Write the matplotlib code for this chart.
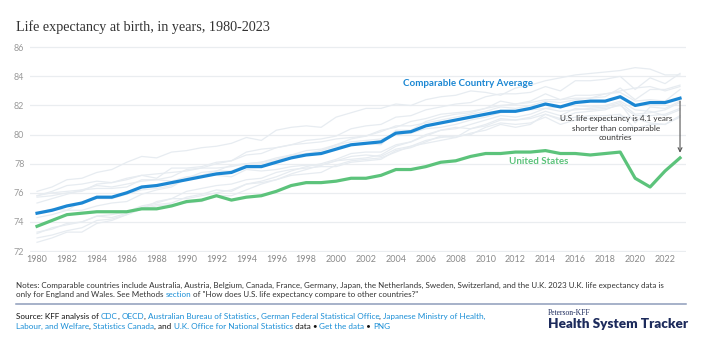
import matplotlib
matplotlib.use("Agg")
import matplotlib.pyplot as plt
from matplotlib.lines import Line2D

# ---- data ----
years = list(range(1980, 2024))

us = [73.7, 74.1, 74.5, 74.6, 74.7, 74.7, 74.7, 74.9, 74.9, 75.1,
      75.4, 75.5, 75.8, 75.5, 75.7, 75.8, 76.1, 76.5, 76.7, 76.7,
      76.8, 77.0, 77.0, 77.2, 77.6, 77.6, 77.8, 78.1, 78.2, 78.5,
      78.7, 78.7, 78.8, 78.8, 78.9, 78.7, 78.7, 78.6, 78.7, 78.8,
      77.0, 76.4, 77.5, 78.4]

comparable_avg = [74.6, 74.8, 75.1, 75.3, 75.7, 75.7, 76.0, 76.4, 76.5, 76.7,
                  76.9, 77.1, 77.3, 77.4, 77.8, 77.8, 78.1, 78.4, 78.6, 78.7,
                  79.0, 79.3, 79.4, 79.5, 80.1, 80.2, 80.6, 80.8, 81.0, 81.2,
                  81.4, 81.6, 81.6, 81.8, 82.1, 81.9, 82.2, 82.3, 82.3, 82.6,
                  82.0, 82.2, 82.2, 82.5]

japan = [76.1, 76.4, 76.9, 77.0, 77.4, 77.6, 78.1, 78.5, 78.4, 78.8,
         78.9, 79.1, 79.2, 79.4, 79.8, 79.6, 80.3, 80.5, 80.6, 80.5,
         81.2, 81.5, 81.8, 81.8, 82.1, 82.0, 82.4, 82.6, 82.7, 83.0,
         82.9, 82.7, 83.2, 83.4, 83.7, 83.9, 84.1, 84.2, 84.3, 84.4,
         84.6, 84.5, 84.1, 84.1]
switzerland = [75.7, 75.8, 76.0, 76.1, 76.6, 76.7, 76.9, 77.2, 77.3, 77.4,
               77.5, 77.7, 78.0, 78.2, 78.6, 78.7, 79.1, 79.3, 79.6, 79.7,
               79.9, 80.4, 80.6, 80.7, 81.2, 81.3, 81.7, 81.9, 82.1, 82.2,
               82.6, 82.8, 82.8, 82.9, 83.3, 83.0, 83.7, 83.7, 83.8, 84.0,
               83.1, 83.9, 83.5, 84.2]
sweden = [75.8, 76.1, 76.5, 76.6, 76.8, 76.7, 77.0, 77.2, 77.0, 77.7,
          77.7, 77.8, 78.1, 78.2, 78.8, 79.0, 79.1, 79.3, 79.4, 79.5,
          79.7, 79.8, 79.9, 80.2, 80.6, 80.6, 80.8, 81.0, 81.2, 81.4,
          81.6, 81.9, 81.8, 82.0, 82.3, 82.2, 82.4, 82.5, 82.6, 83.2,
          82.4, 83.1, 83.1, 83.4]
australia = [74.6, 74.9, 74.8, 75.4, 75.6, 75.6, 75.9, 76.2, 76.3, 76.5,
             77.0, 77.4, 77.5, 77.9, 78.0, 78.1, 78.3, 78.6, 78.9, 79.0,
             79.3, 79.7, 79.9, 80.3, 80.5, 80.9, 81.1, 81.4, 81.5, 81.6,
             81.8, 82.0, 82.1, 82.2, 82.4, 82.4, 82.5, 82.5, 82.8, 83.0,
             83.2, 83.3, 83.0, 83.3]
france = [74.3, 74.5, 74.8, 74.8, 75.1, 75.3, 75.4, 75.9, 76.2, 76.4,
          77.0, 77.2, 77.5, 77.5, 77.9, 78.0, 78.2, 78.6, 78.7, 78.9,
          79.2, 79.3, 79.4, 79.3, 80.3, 80.3, 80.9, 81.2, 81.4, 81.5,
          81.8, 82.3, 82.1, 82.3, 82.8, 82.4, 82.7, 82.7, 82.8, 82.9,
          82.3, 82.4, 82.3, 83.1]
canada = [75.3, 75.6, 75.9, 76.2, 76.5, 76.4, 76.6, 76.8, 76.9, 77.1,
          77.6, 77.7, 77.7, 77.8, 78.0, 78.1, 78.4, 78.6, 78.6, 78.9,
          79.3, 79.5, 79.6, 79.7, 80.0, 80.1, 80.4, 80.5, 80.7, 81.0,
          81.2, 81.5, 81.6, 81.7, 81.8, 81.9, 82.0, 81.9, 82.0, 82.3,
          81.7, 81.6, 81.3, 81.7]
netherlands = [75.8, 76.0, 76.1, 76.2, 76.3, 76.3, 76.4, 76.9, 76.9, 76.8,
               77.1, 77.2, 77.2, 77.1, 77.6, 77.5, 77.6, 77.8, 77.9, 77.9,
               78.2, 78.3, 78.4, 78.6, 79.2, 79.5, 79.9, 80.3, 80.4, 80.7,
               81.0, 81.3, 81.2, 81.4, 81.8, 81.6, 81.7, 81.8, 81.9, 82.2,
               81.4, 81.5, 81.7, 82.2]
belgium = [73.3, 73.5, 73.9, 74.0, 74.4, 74.5, 74.7, 75.1, 75.3, 75.6,
           76.1, 76.3, 76.5, 76.6, 76.9, 77.0, 77.4, 77.6, 77.7, 77.8,
           77.8, 78.1, 78.2, 78.3, 78.9, 79.1, 79.5, 79.9, 79.8, 80.1,
           80.3, 80.7, 80.5, 80.7, 81.4, 81.1, 81.5, 81.6, 81.7, 82.1,
           80.8, 81.9, 81.8, 82.3]
uk = [73.2, 73.6, 73.8, 74.0, 74.4, 74.3, 74.6, 75.0, 75.2, 75.3,
      75.7, 75.9, 76.2, 76.1, 76.6, 76.7, 76.9, 77.2, 77.3, 77.4,
      77.9, 78.2, 78.3, 78.4, 78.8, 79.2, 79.4, 79.6, 79.8, 80.4,
      80.6, 81.0, 81.0, 81.1, 81.4, 81.0, 81.2, 81.3, 81.3, 81.4,
      80.4, 80.7, 80.7, 81.3]
germany = [72.9, 73.1, 73.4, 73.6, 74.1, 74.2, 74.5, 74.9, 75.1, 75.2,
           75.3, 75.4, 75.8, 75.8, 76.2, 76.6, 76.9, 77.3, 77.6, 77.9,
           78.2, 78.5, 78.6, 78.5, 79.0, 79.2, 79.6, 79.8, 79.9, 80.0,
           80.5, 80.8, 80.7, 80.8, 81.2, 80.7, 81.0, 81.1, 81.0, 81.3,
           81.1, 80.8, 80.7, 81.2]
austria = [72.6, 72.9, 73.3, 73.3, 73.9, 74.1, 74.5, 74.9, 75.4, 75.6,
           75.6, 75.8, 76.0, 76.2, 76.6, 76.8, 77.1, 77.5, 77.8, 78.0,
           78.3, 78.7, 78.8, 78.8, 79.3, 79.5, 80.0, 80.3, 80.5, 80.4,
           80.7, 81.1, 81.0, 81.2, 81.6, 81.3, 81.8, 81.7, 81.8, 82.0,
           81.3, 81.3, 81.4, 81.8]

countries = [japan, switzerland, sweden, australia, france, canada,
             netherlands, belgium, uk, germany, austria]

x_ticks = list(range(1980, 2023, 2))
y_ticks = [72, 74, 76, 78, 80, 82, 84, 86]

# ---- style ----
BLUE = "#1b87d3"
GREEN = "#5cc37b"
LINK = "#1a8ed6"
GREY_LINE = "#e7ecf1"
TEXT = "#333333"
NAVY = "#1d2b5c"
SANS = "Lato"

W, H = 710, 342
fig = plt.figure(figsize=(W / 100, H / 100), dpi=100)
fig.patch.set_facecolor("white")

ax = fig.add_axes([30 / W, 0.2617, 656 / W, 0.6044])
for c in countries:
    ax.plot(years, c, color=GREY_LINE, lw=0.9, zorder=1, solid_joinstyle="round")
ax.plot(years, comparable_avg, color=BLUE, lw=2.3, zorder=3, solid_joinstyle="round")
ax.plot(years, us, color=GREEN, lw=2.3, zorder=3, solid_joinstyle="round")

ax.set_xlim(1979.53, 2023.4)
ax.set_ylim(71.9, 86.1)
ax.set_xticks(x_ticks)
ax.set_yticks(y_ticks)
ax.set_xticklabels([str(v) for v in x_ticks], fontsize=6.5, color="#8a8a8a", family=SANS)
ax.set_yticklabels([str(v) for v in y_ticks], fontsize=6.5, color="#9a9a9a", family=SANS)
ax.tick_params(axis="both", length=0)
ax.tick_params(axis="y", pad=4)
ax.tick_params(axis="x", pad=2)
ax.grid(axis="y", color="#eaedf0", lw=0.9, zorder=0)
ax.set_axisbelow(True)
for s in ax.spines.values():
    s.set_visible(False)

# series labels
ax.text(2008.83, 83.49, "Comparable Country Average", color=BLUE, fontsize=7.0,
        fontweight="bold", family=SANS, ha="center", va="center")
ax.text(2013.55, 78.14, "United States", color=GREEN, fontsize=7.0,
        fontweight="bold", family=SANS, ha="center", va="center")

# gap annotation
ax.text(2018.7, 80.44, "U.S. life expectancy is 4.1 years\nshorter than comparable\ncountries",
        color=TEXT, fontsize=5.9, family=SANS, ha="center", va="center", linespacing=1.45)
ax.annotate("", xy=(2023, 78.75), xytext=(2023, 82.3),
            arrowprops=dict(arrowstyle="->", color="#555555", lw=0.8,
                            shrinkA=0, shrinkB=0, mutation_scale=7))

# title
fig.text(16 / W, 1 - 27 / H, "Life expectancy at birth, in years, 1980-2023",
         fontsize=10.2, family="Liberation Serif", color=TEXT, va="center", ha="left")

renderer = fig.canvas.get_renderer()


def text_width(t, s):
    t.set_text(s + "|")
    w1 = t.get_window_extent(renderer).width
    t.set_text("|")
    w2 = t.get_window_extent(renderer).width
    t.set_text(s)
    return w1 - w2


def rich_line(x_px, y_px, pieces, size=5.8):
    for s, col in pieces:
        t = fig.text(x_px / W, 1 - y_px / H, s, color=col, fontsize=size,
                     family=SANS, va="center", ha="left")
        x_px += text_width(t, s)


rich_line(16, 285, [("Notes: Comparable countries include Australia, Austria, Belgium, Canada, France, "
                     "Germany, Japan, the Netherlands, Sweden, Switzerland, and the U.K. 2023 U.K. "
                     "life expectancy data is", TEXT)])
rich_line(16, 294.5, [("only for England and Wales. See Methods ", TEXT), ("section", LINK),
                      (" of \"How does U.S. life expectancy compare to other countries?\"", TEXT)])

fig.add_artist(Line2D([16 / W, 686 / W], [1 - 303.7 / H, 1 - 303.7 / H],
                      color="#8e9dbb", lw=1.1, transform=fig.transFigure))

src = 5.85
rich_line(16, 316.7, [("Source: KFF analysis of ", "#111111"), ("CDC", LINK), (", ", "#111111"),
                      ("OECD", LINK), (", ", "#111111"), ("Australian Bureau of Statistics", LINK),
                      (", ", "#111111"), ("German Federal Statistical Office", LINK),
                      (", ", "#111111"), ("Japanese Ministry of Health,", LINK)], size=src)
rich_line(16, 326.2, [("Labour, and Welfare", LINK), (", ", "#111111"), ("Statistics Canada", LINK),
                      (", and ", "#111111"), ("U.K. Office for National Statistics", LINK),
                      (" data \u2022 ", "#111111"), ("Get the data", LINK), (" \u2022 ", "#111111"),
                      ("PNG", LINK)], size=src)

# tracker logo
fig.text(548 / W, 1 - 312.7 / H, "Peterson-KFF", fontsize=5.5, family="Liberation Serif",
         color=NAVY, va="center", ha="left")
fig.text(548 / W, 1 - 324.5 / H, "Health System Tracker", fontsize=9.7, family=SANS,
         fontweight="heavy", color=NAVY, va="center", ha="left")

fig.savefig("out.png", dpi=100)
